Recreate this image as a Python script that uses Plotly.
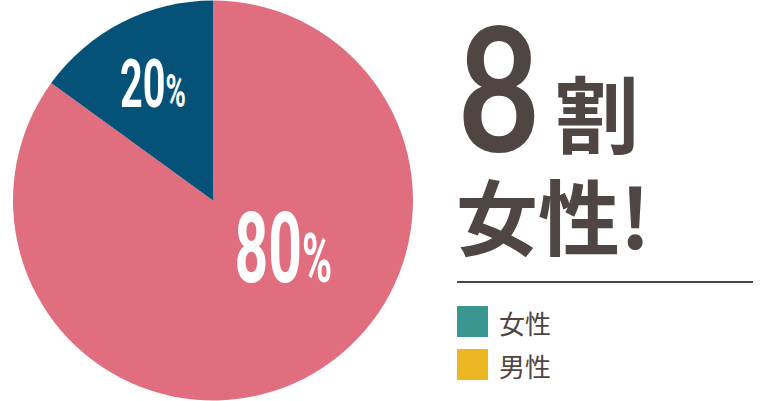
import plotly.graph_objects as go

# pie data (slice sizes, printed labels as shown)
segments = ["女性", "男性"]
shares = [85, 15]
shown_labels = ["80", "20"]
pie_colors = ["#E16E7E", "#045277"]

legend_names = ["女性", "男性"]
legend_colors = ["#3A9690", "#EBB824"]

W, H = 768, 401
ink = "#4F4542"


def px(x):
    return x / W


def py(y):
    return 1 - y / H


fig = go.Figure()

fig.add_trace(go.Pie(
    labels=segments,
    values=shares,
    sort=False,
    direction="clockwise",
    rotation=0,
    marker=dict(colors=pie_colors, line=dict(width=0)),
    textinfo="none",
    hoverinfo="skip",
    showlegend=False,
    domain=dict(x=[px(13), px(413)], y=[0, 1]),
))

annotations = []
# slice labels (condensed afterwards in post_script)
label_pos = [(283, 248, 98), (153, 84, 66)]
for lab, (x, y, size) in zip(shown_labels, label_pos):
    annotations.append(dict(
        x=px(x), y=py(y), xref="paper", yref="paper",
        text=lab + "<span style='font-size:%dpx'>%%</span>" % int(size * 0.7),
        showarrow=False, xanchor="center", yanchor="middle",
        font=dict(family="Roboto", size=size, color="white", weight="bold"),
    ))

# headline
annotations.append(dict(
    x=px(456), y=py(85), xref="paper", yref="paper", text="8",
    showarrow=False, xanchor="left", yanchor="middle",
    font=dict(family="Lato", size=172, color=ink, weight="bold"),
))
annotations.append(dict(
    x=px(553), y=py(111), xref="paper", yref="paper", text="割",
    showarrow=False, xanchor="left", yanchor="middle",
    font=dict(family="Noto Sans CJK JP", size=84, color=ink, weight="bold"),
))
annotations.append(dict(
    x=px(454), y=py(214), xref="paper", yref="paper", text="女性!",
    showarrow=False, xanchor="left", yanchor="middle",
    font=dict(family="Noto Sans CJK JP", size=82, color=ink, weight="bold"),
))

shapes = [dict(
    type="line", xref="paper", yref="paper",
    x0=px(457), x1=px(753), y0=py(282), y1=py(282),
    line=dict(color=ink, width=2),
)]

# legend boxes
for i, (name, col) in enumerate(zip(legend_names, legend_colors)):
    top = 306 + i * 43
    shapes.append(dict(
        type="rect", xref="paper", yref="paper",
        x0=px(457), x1=px(488), y0=py(top), y1=py(top + 31),
        fillcolor=col, line=dict(width=0),
    ))
    annotations.append(dict(
        x=px(497), y=py(top + 16), xref="paper", yref="paper",
        text=name, showarrow=False,
        xanchor="left", yanchor="middle",
        font=dict(family="Noto Sans CJK JP", size=26, color=ink),
    ))

fig.update_layout(
    width=W, height=H,
    margin=dict(l=0, r=0, t=0, b=0),
    paper_bgcolor="white",
    plot_bgcolor="white",
    annotations=annotations,
    shapes=shapes,
)

# no condensed font installed, so squeeze the percent labels and the big 8 sideways
squeeze = """
document.body.style.margin='0';
document.body.style.overflow='hidden';
var gd = document.getElementById('{plot_id}');
var factors = {0: [0.6, 'c'], 1: [0.6, 'c'], 2: [0.82, 'l']};
gd.querySelectorAll('g.annotation').forEach(function(g) {
  var f = factors[+g.getAttribute('data-index')];
  if (!f) return;
  var t = g.querySelector('text.annotation-text');
  var b = t.getBBox();
  var cx = f[1] == 'c' ? b.x + b.width / 2 : b.x;
  var old = t.getAttribute('transform') || '';
  t.setAttribute('transform', old + ' translate(' + cx + ',0) scale(' + f[0] + ',1) translate(' + (-cx) + ',0)');
});
"""

fig.write_html("out.html", config={"displayModeBar": False}, post_script=squeeze)
